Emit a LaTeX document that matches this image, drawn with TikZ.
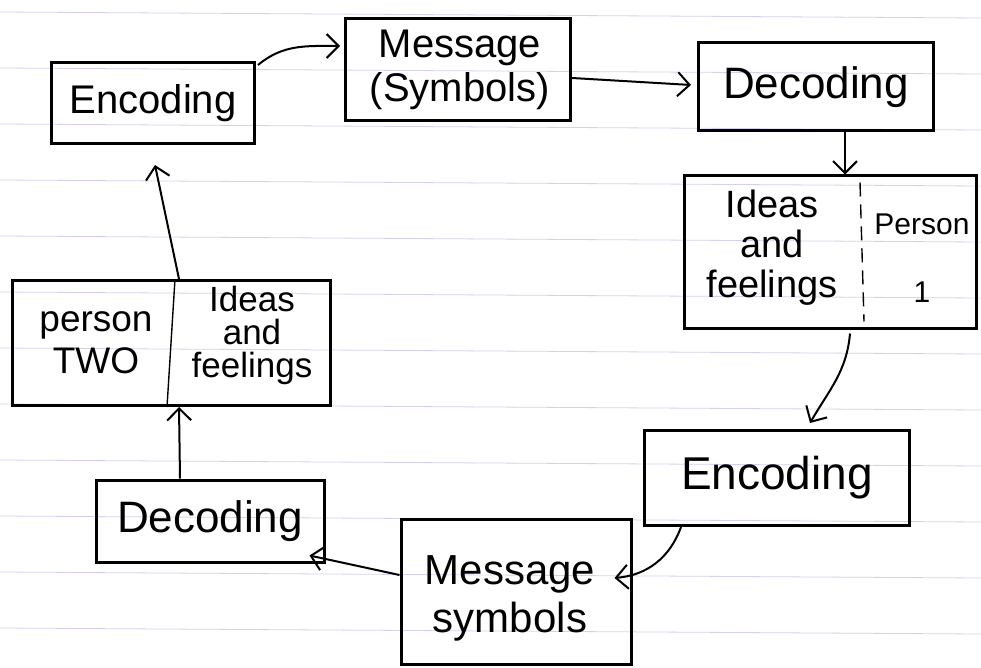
\documentclass[tikz,border=0pt]{standalone}
\usepackage{fontspec}
\setmainfont{Liberation Sans}
\usetikzlibrary{arrows.meta,calc}
\begin{document}
\begin{tikzpicture}[x=1pt,y=-1pt,
  box/.style={draw,line width=3pt,inner sep=0pt,align=center},
  txt/.style={inner sep=0pt,align=center},
  fs/.style={font=\fontsize{#1}{#1}\selectfont},
  arr/.style={line width=2pt,-{Straight Barb[length=12pt,width=24pt,line width=2pt]}},
  rule/.style={draw=blue!40!gray,opacity=0.25,line width=0.8pt}
]
\useasboundingbox (0,0) rectangle (981,668);
% lined paper
\foreach \y in {12,68,124,180,236,292,348,404,460,516,572,628}
  \draw[rule] (0,\y) -- (981,\y+6);

% boxes
\node[box,minimum width=203pt,minimum height=81pt,fs=40] (enc1) at (153,103) {Encoding};
\node[box,minimum width=225pt,minimum height=102pt] (msg1) at (458,70) {};
\node[txt,font=\fontsize{40}{44}\selectfont] (msg1t) at (460,70) {Message\\(Symbols)};
\node[box,minimum width=235pt,minimum height=88pt,fs=44] (dec1) at (816,87) {Decoding};

\node[box,minimum width=292pt,minimum height=152pt] (idea1) at (830,252) {};
\node[txt,font=\fontsize{38}{40}\selectfont] (idea1t) at (772,248) {Ideas\\and\\feelings};
\node[txt,font=\fontsize{30}{68}\selectfont] (pers1t) at (922,258) {Person\\1};

\node[box,minimum width=265pt,minimum height=95pt,fs=46] (enc2) at (777,478) {Encoding};
\node[box,minimum width=230pt,minimum height=145pt] (msg2) at (516,592) {};
\node[txt,font=\fontsize{42}{48}\selectfont] (msg2t) at (510,598) {Message\\symbols};
\node[box,minimum width=228pt,minimum height=82pt,fs=44] (dec2) at (210,521) {Decoding};

\node[box,minimum width=318pt,minimum height=125pt] (pers2) at (171,343) {};
\node[txt,font=\fontsize{37}{42}\selectfont] (pers2t) at (96,343) {person\\TWO};
\node[txt,font=\fontsize{35}{33}\selectfont] (idea2t) at (252,335) {Ideas\\and\\feelings};

% dividers
\draw[line width=1.4pt,dash pattern=on 14pt off 8pt] ($(idea1.north)+(30,8)$) -- ($(idea1.south)+(34,-8)$);
\draw[line width=1.4pt] ($(pers2.north)+(4,0)$) -- ($(pers2.south)+(-4,0)$);

% connectors
\draw[arr] ($(enc1.north east)+(2,4)$) to[out=40,in=180] ($(msg1.west)+(-4,-24)$);
\draw[arr] ($(msg1.east)+(0,8)$) -- ($(dec1.west)+(-6,-2)$);
\draw[arr] ($(dec1.south)+(29,0)$) -- ($(idea1.north)+(15,0)$);
\draw[arr] ($(idea1.south)+(20,4)$) to[out=-95,in=60] ($(enc2.north)+(33,-6)$);
\draw[arr] ($(enc2.south west)+(38,0)$) to[out=-110,in=5] ($(msg2.east)+(-18,-14)$);
\draw[arr] ($(msg2.west)+(0,-17)$) -- ($(dec2.south east)+(-16,-8)$);
\draw[arr] ($(dec2.north)+(-30,0)$) -- ($(pers2.south)+(8,0)$);
\draw[arr] ($(pers2.north)+(8,0)$) -- ($(enc1.south)+(2,20)$);
\end{tikzpicture}
\end{document}
